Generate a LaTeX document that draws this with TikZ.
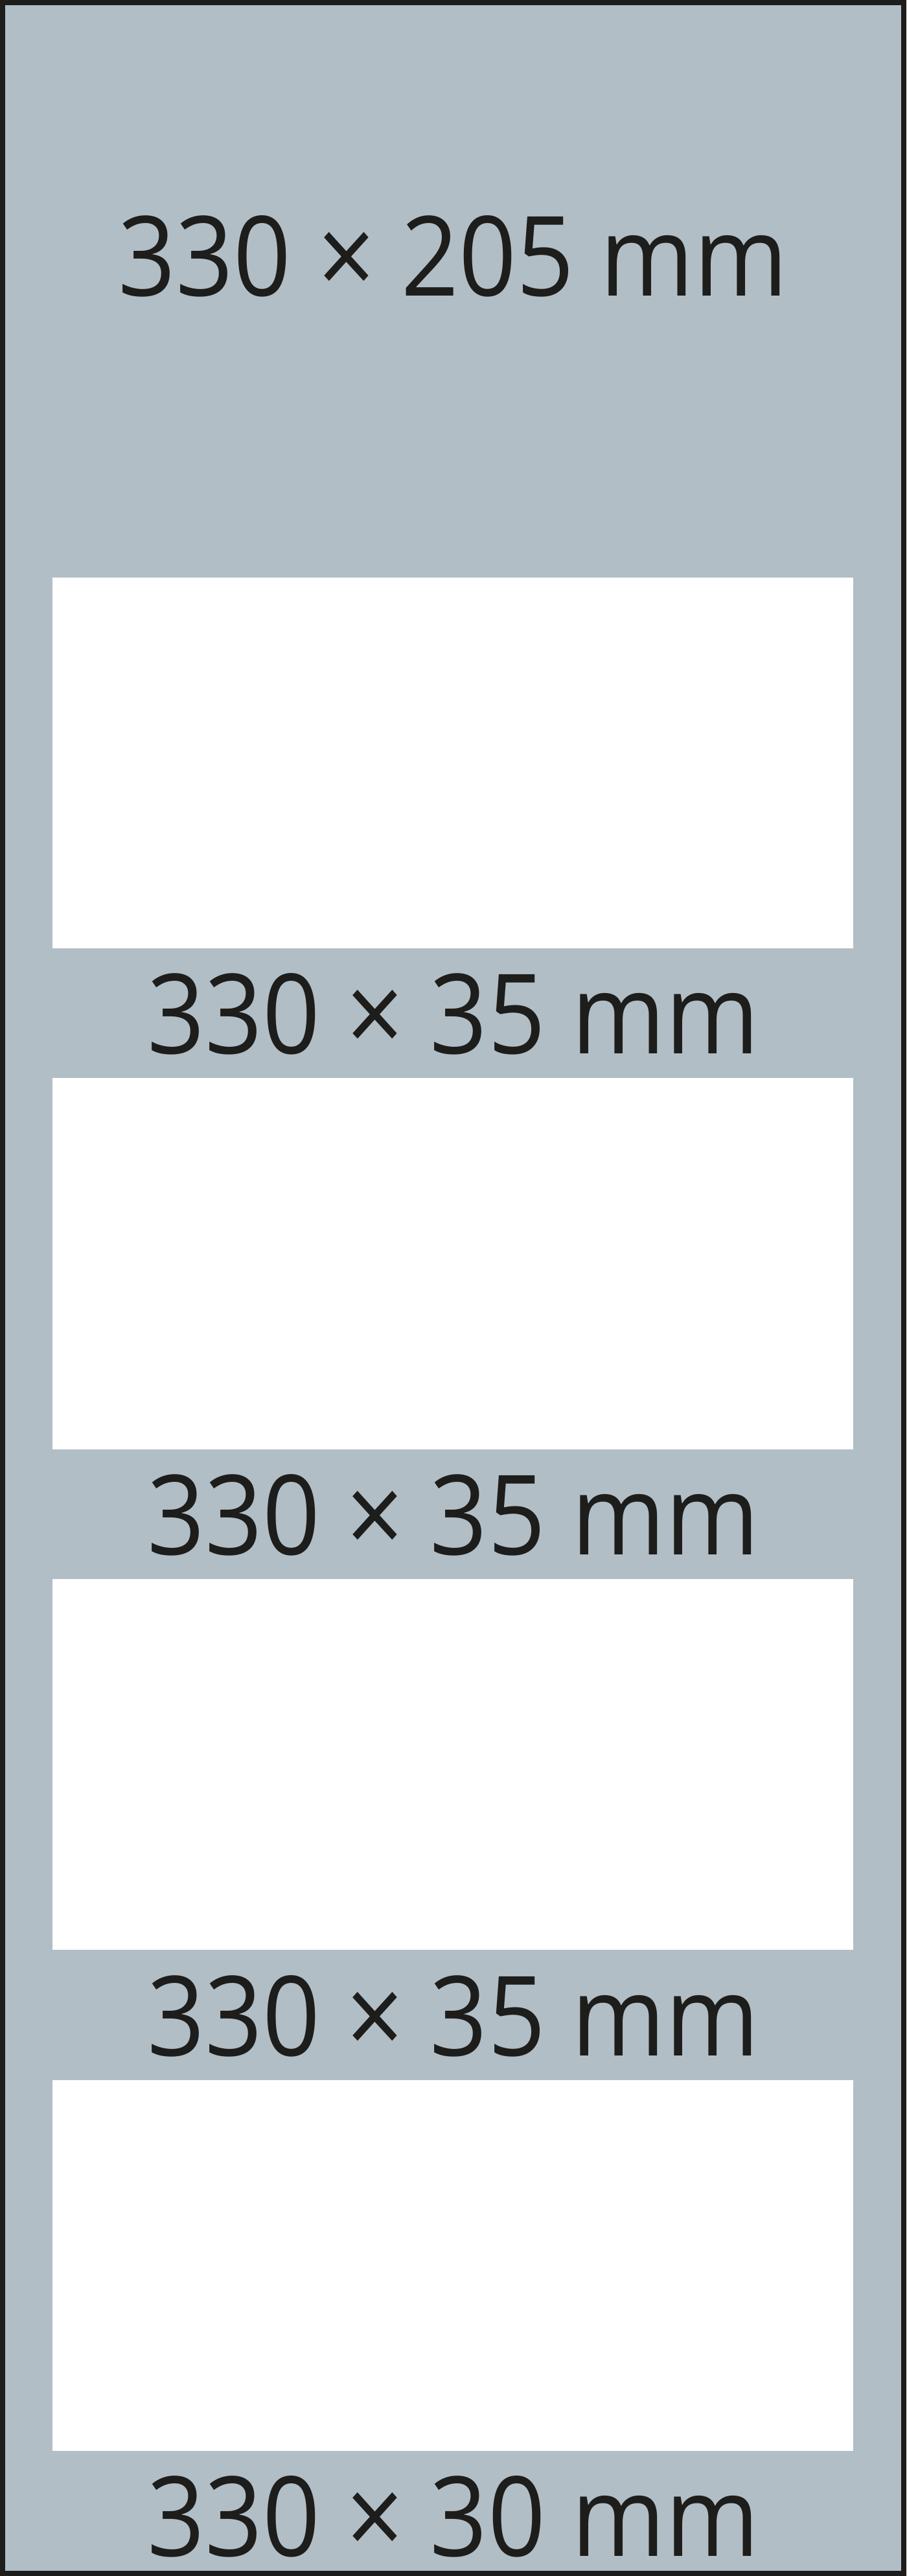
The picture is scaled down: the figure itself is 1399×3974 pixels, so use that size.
\documentclass[tikz,border=0pt]{standalone}
\usepackage{fontspec}
\setmainfont[FakeStretch=0.91]{Open Sans}
\definecolor{panel}{RGB}{178,190,198}
\definecolor{ink}{RGB}{29,29,27}
\begin{document}
\begin{tikzpicture}[x=0.5pt,y=-0.5pt,
  slot/.style={fill=white,draw=none},
  size/.style={anchor=base,inner sep=0pt,text=ink,font=\fontsize{85.5}{100}\selectfont}]
\useasboundingbox (0,0) rectangle (1399,3974);
\fill[panel] (0,0) rectangle (1399,3974);
\draw[ink,line width=4pt] (4,4) rectangle (1395,3970);
\fill[slot] (81,891) rectangle (1317,1463);
\fill[slot] (81,1663) rectangle (1317,2236);
\fill[slot] (81,2436) rectangle (1317,3008);
\fill[slot] (81,3209) rectangle (1317,3781);
\node[size] (l1) at (699.5,456.6) {330 × 205 mm};
\node[size] (l2) at (699.5,1625.7) {330 × 35 mm};
\node[size] (l3) at (699.5,2398.3) {330 × 35 mm};
\node[size] (l4) at (699.5,3171) {330 × 35 mm};
\node[size] (l5) at (699.5,3943.7) {330 × 30 mm};
\end{tikzpicture}
\end{document}
